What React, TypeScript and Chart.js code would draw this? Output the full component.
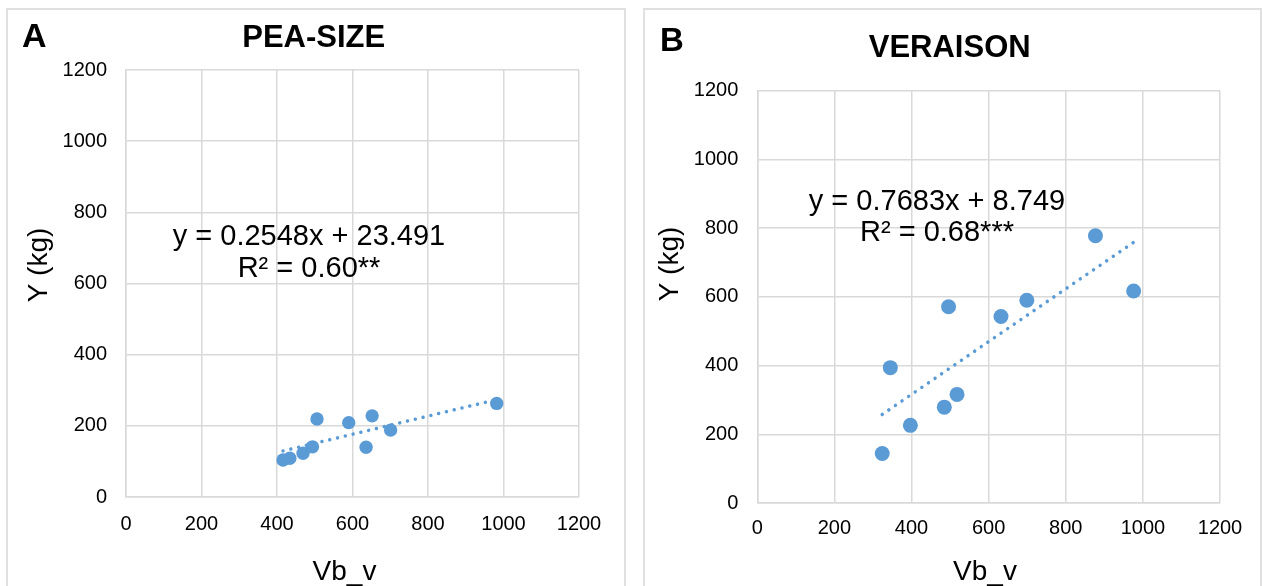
import React, { useEffect, useRef } from "react";
import { Chart, registerables } from "chart.js";

Chart.register(...registerables);

// ---- data ----
const axisTicks = [0, 200, 400, 600, 800, 1000, 1200];
const axisTickLabels = ["0", "200", "400", "600", "800", "1000", "1200"];

const peaSizeX = [416, 434, 469, 494, 506, 590, 636, 652, 701, 982];
const peaSizeY = [104, 109, 123, 141, 219, 209, 140, 228, 188, 263];
const peaSizeSlope = 0.2548;
const peaSizeIntercept = 23.491;

const veraisonX = [324, 345, 397, 485, 496, 518, 632, 699, 877, 976];
const veraisonY = [144, 394, 226, 279, 571, 316, 543, 590, 778, 617];
const veraisonSlope = 0.7683;
const veraisonIntercept = 8.749;

const FONT = "'Liberation Sans', Arial, sans-serif";
const BLUE = "#5b9bd5";
const GRID = "#d9d9d9";

type TextItem = {
  text: string;
  x: number;
  y: number;
  font: string;
  align: CanvasTextAlign;
  rotate?: boolean;
};

const textPlugin = {
  id: "panelText",
  afterDraw(chart: any, _args: any, opts: any) {
    const ctx = chart.ctx as CanvasRenderingContext2D;
    for (const t of (opts.items || []) as TextItem[]) {
      ctx.save();
      ctx.font = t.font;
      ctx.fillStyle = "#000";
      ctx.textAlign = t.align;
      ctx.textBaseline = "alphabetic";
      ctx.translate(t.x, t.y);
      if (t.rotate) ctx.rotate(-Math.PI / 2);
      ctx.fillText(t.text, 0, 0);
      ctx.restore();
    }
  },
};

type PanelProps = {
  left: number;
  width: number;
  height: number;
  xs: number[];
  ys: number[];
  slope: number;
  intercept: number;
  pad: { top: number; right: number };
  yWidth: number;
  xHeight: number;
  yTickPad: number;
  xTickPad: number;
  radius: number;
  texts: TextItem[];
};

function Panel(p: PanelProps) {
  const ref = useRef<HTMLCanvasElement>(null);
  useEffect(() => {
    if (!ref.current) return;
    const pts = p.xs.map((x, i) => ({ x, y: p.ys[i] }));
    const xMin = Math.min(...p.xs);
    const xMax = Math.max(...p.xs);
    const trend = [
      { x: xMin, y: p.slope * xMin + p.intercept },
      { x: xMax, y: p.slope * xMax + p.intercept },
    ];
    const tickCb = (v: any) => {
      const i = axisTicks.indexOf(Number(v));
      return i >= 0 ? axisTickLabels[i] : "";
    };
    const tickFont = { family: FONT, size: 20 };
    const chart = new Chart(ref.current, {
      type: "scatter",
      data: {
        datasets: [
          {
            data: trend,
            showLine: true,
            borderColor: BLUE,
            borderWidth: 3.5,
            borderDash: [0.001, 8],
            borderCapStyle: "round",
            pointRadius: 0,
            pointHoverRadius: 0,
            fill: false,
          } as any,
          {
            data: pts,
            backgroundColor: BLUE,
            borderWidth: 0,
            pointRadius: p.radius,
            pointHoverRadius: p.radius,
          },
        ],
      },
      options: {
        responsive: false,
        animation: false,
        events: [],
        layout: { padding: { top: p.pad.top, right: p.pad.right, left: 0, bottom: 0 } },
        plugins: {
          legend: { display: false },
          tooltip: { enabled: false },
          title: { display: false },
          panelText: { items: p.texts },
        } as any,
        scales: {
          x: {
            type: "linear",
            min: 0,
            max: 1200,
            afterFit: (s: any) => {
              s.height = p.xHeight;
            },
            ticks: {
              stepSize: 200,
              autoSkip: false,
              maxRotation: 0,
              padding: p.xTickPad,
              color: "#000",
              font: tickFont,
              callback: tickCb,
            },
            grid: { color: GRID, lineWidth: 1.5, drawTicks: false },
            border: { color: GRID, width: 1.5 },
          },
          y: {
            type: "linear",
            min: 0,
            max: 1200,
            afterFit: (s: any) => {
              s.width = p.yWidth;
            },
            ticks: {
              stepSize: 200,
              autoSkip: false,
              padding: p.yTickPad,
              color: "#000",
              font: tickFont,
              callback: tickCb,
            },
            grid: { color: GRID, lineWidth: 1.5, drawTicks: false },
            border: { color: GRID, width: 1.5 },
          },
        },
      },
      plugins: [textPlugin as any],
    });
    return () => chart.destroy();
  }, []);
  return (
    <canvas
      ref={ref}
      width={p.width}
      height={p.height}
      style={{ position: "absolute", left: p.left, top: 0, width: p.width, height: p.height }}
    />
  );
}

export default function App() {
  const bold = (s: number) => `bold ${s}px ${FONT}`;
  const reg = (s: number) => `${s}px ${FONT}`;
  const textsA: TextItem[] = [
    { text: "A", x: 22, y: 47, font: bold(34), align: "left" },
    { text: "PEA-SIZE", x: 313.7, y: 46.5, font: bold(31), align: "center" },
    { text: "y = 0.2548x + 23.491", x: 309, y: 245, font: reg(29), align: "center" },
    { text: "R² = 0.60**", x: 309, y: 277, font: reg(29), align: "center" },
    { text: "Vb_v", x: 344.5, y: 580, font: reg(28), align: "center" },
    { text: "Y (kg)", x: 47, y: 265, font: reg(28), align: "center", rotate: true },
  ];
  const textsB: TextItem[] = [
    { text: "B", x: 28, y: 50.5, font: bold(33), align: "left" },
    { text: "VERAISON", x: 317.7, y: 57.3, font: bold(31), align: "center" },
    { text: "y = 0.7683x + 8.749", x: 305, y: 209.5, font: reg(29), align: "center" },
    { text: "R² = 0.68***", x: 305, y: 241, font: reg(29), align: "center" },
    { text: "Vb_v", x: 353, y: 580, font: reg(28), align: "center" },
    { text: "Y (kg)", x: 45.7, y: 264, font: reg(28), align: "center", rotate: true },
  ];
  return (
    <div
      style={{
        position: "fixed",
        left: 0,
        top: 0,
        width: 1262,
        height: 586,
        overflow: "hidden",
        background: "#fff",
      }}
    >
      <div
        style={{
          position: "absolute",
          left: 6,
          top: 8,
          width: 620,
          height: 620,
          boxSizing: "border-box",
          border: "2px solid #e0e0e0",
        }}
      />
      <div
        style={{
          position: "absolute",
          left: 643,
          top: 8,
          width: 619,
          height: 620,
          boxSizing: "border-box",
          border: "2px solid #e0e0e0",
        }}
      />
      <Panel
        left={0}
        width={632}
        height={586}
        xs={peaSizeX}
        ys={peaSizeY}
        slope={peaSizeSlope}
        intercept={peaSizeIntercept}
        pad={{ top: 70, right: 53 }}
        yWidth={126}
        xHeight={89}
        yTickPad={19}
        xTickPad={15.6}
        radius={6.7}
        texts={textsA}
      />
      <Panel
        left={632}
        width={630}
        height={586}
        xs={veraisonX}
        ys={veraisonY}
        slope={veraisonSlope}
        intercept={veraisonIntercept}
        pad={{ top: 90.7, right: 42 }}
        yWidth={125.3}
        xHeight={83}
        yTickPad={19}
        xTickPad={13.1}
        radius={7.5}
        texts={textsB}
      />
    </div>
  );
}
